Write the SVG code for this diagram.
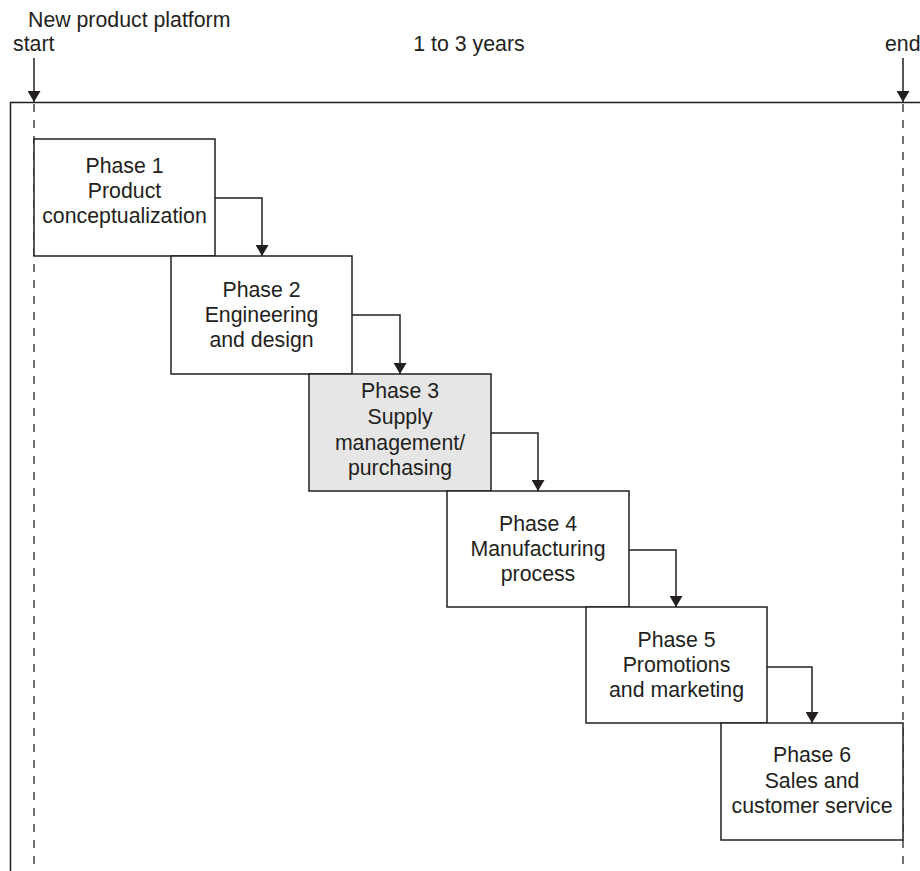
<svg xmlns="http://www.w3.org/2000/svg" width="920" height="871" viewBox="0 0 920 871">
  <style>
    text { font-family: "Liberation Sans", Arial, Helvetica, sans-serif; font-size: 21.3px; fill: #231f20; }
    .lbl { text-anchor: middle; }
    .box { fill: #ffffff; stroke: #231f20; stroke-width: 1.5; }
    .box.shaded { fill: #e6e6e6; }
    .frame { fill: none; stroke: #231f20; stroke-width: 1.5; }
    .guide { fill: none; stroke: #444444; stroke-width: 1.5; stroke-dasharray: 8 8; }
    .flow { fill: none; stroke: #231f20; stroke-width: 1.5; marker-end: url(#arrow); }
  </style>
  <defs>
    <marker id="arrow" viewBox="0 0 11 13" refX="11" refY="6.5" markerWidth="11" markerHeight="13" markerUnits="userSpaceOnUse" orient="auto">
      <path d="M0,0 L11,6.5 L0,13 z" fill="#231f20"/>
    </marker>
  </defs>
  <rect width="920" height="871" fill="#ffffff"/>

  <!-- timeline header -->
  <g id="timeline">
    <text x="28" y="27">New product platform</text>
    <text x="13" y="51">start</text>
    <text x="469" y="51" class="lbl">1 to 3 years</text>
    <text x="885" y="51">end</text>
  </g>

  <!-- frame and start/end guides -->
  <g id="frame">
    <path class="frame" d="M10.5,871 V102.5 H920"/>
    <path class="guide" d="M34,104 V871"/>
    <path class="guide" d="M903,104 V871"/>
  </g>

  <!-- phase boxes -->
  <g id="phase1">
    <rect class="box" x="34" y="139" width="181" height="117"/>
    <text class="lbl" x="124.5" y="173">Phase 1</text>
    <text class="lbl" x="124.5" y="198">Product</text>
    <text class="lbl" x="124.5" y="223">conceptualization</text>
  </g>
  <g id="phase2">
    <rect class="box" x="171" y="256" width="181" height="118"/>
    <text class="lbl" x="261.5" y="297">Phase 2</text>
    <text class="lbl" x="261.5" y="322">Engineering</text>
    <text class="lbl" x="261.5" y="347">and design</text>
  </g>
  <g id="phase3">
    <rect class="box shaded" x="309" y="374" width="182" height="117"/>
    <text class="lbl" x="400" y="398">Phase 3</text>
    <text class="lbl" x="400" y="424">Supply</text>
    <text class="lbl" x="400" y="450">management/</text>
    <text class="lbl" x="400" y="475">purchasing</text>
  </g>
  <g id="phase4">
    <rect class="box" x="447" y="491" width="182" height="116"/>
    <text class="lbl" x="538" y="531">Phase 4</text>
    <text class="lbl" x="538" y="556">Manufacturing</text>
    <text class="lbl" x="538" y="581">process</text>
  </g>
  <g id="phase5">
    <rect class="box" x="586" y="607" width="181" height="116"/>
    <text class="lbl" x="676.5" y="647">Phase 5</text>
    <text class="lbl" x="676.5" y="672">Promotions</text>
    <text class="lbl" x="676.5" y="697">and marketing</text>
  </g>
  <g id="phase6">
    <rect class="box" x="721" y="723" width="182" height="117"/>
    <text class="lbl" x="812" y="762">Phase 6</text>
    <text class="lbl" x="812" y="788">Sales and</text>
    <text class="lbl" x="812" y="813">customer service</text>
  </g>

  <!-- connectors -->
  <g id="connectors">
    <path class="flow" d="M34,58 V102"/>
    <path class="flow" d="M903,58 V102"/>
    <path class="flow" d="M215,198 H262 V256"/>
    <path class="flow" d="M352,315 H400 V374"/>
    <path class="flow" d="M491,433 H538 V491"/>
    <path class="flow" d="M629,550 H676 V607"/>
    <path class="flow" d="M767,667 H812 V723"/>
  </g>
</svg>
